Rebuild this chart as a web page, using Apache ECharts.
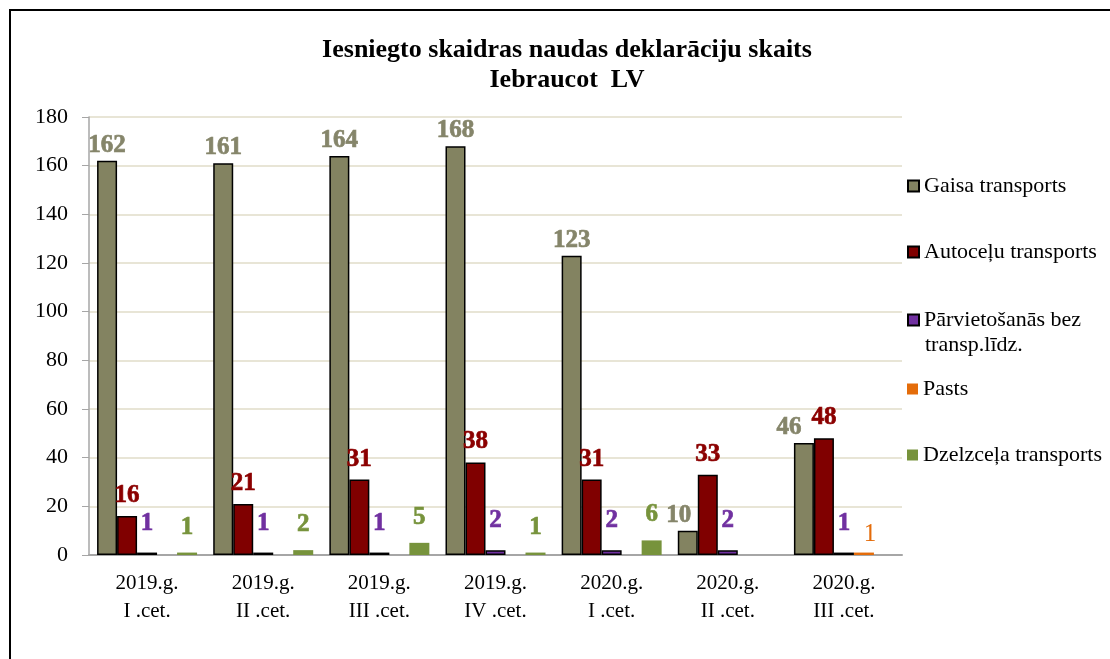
<!DOCTYPE html>
<html>
<head>
<meta charset="utf-8">
<title>Iesniegto skaidras naudas deklarāciju skaits</title>
<script src="https://cdn.jsdelivr.net/npm/echarts@6/dist/echarts.min.js"></script>
<style>
  html, body { margin: 0; padding: 0; background: #fff; }
  #chart { width: 1110px; height: 659px; }
</style>
</head>
<body>
<div id="chart"></div>
<script>
var categories = ['2019.g.\nI .cet.', '2019.g.\nII .cet.', '2019.g.\nIII .cet.', '2019.g.\nIV .cet.',
                  '2020.g.\nI .cet.', '2020.g.\nII .cet.', '2020.g.\nIII .cet.'];
var seriesNames = ['Gaisa transports', 'Autoceļu transports', 'Pārvietošanās bez transp.līdz.', 'Pasts', 'Dzelzceļa transports'];
var gaisa = [162, 161, 164, 168, 123, 10, 46];
var autocelu = [16, 21, 31, 38, 31, 33, 48];
var parvietosanas = [1, 1, 1, 2, 2, 2, 1];
var pasts = [null, null, null, null, null, null, 1];
var dzelzcela = [1, 2, 5, 1, 6, null, null];
var yTicks = [0, 20, 40, 60, 80, 100, 120, 140, 160, 180];

var serif = '"Liberation Serif", "DejaVu Serif", serif';
var chart = echarts.init(document.getElementById('chart'));

function barSeries(name, data, fill, labelColor, border, dist, bold) {
  return {
    name: name,
    type: 'bar',
    data: data,
    barWidth: 20,
    barGap: '0%',
    itemStyle: { color: fill, borderColor: border ? '#000' : fill, borderWidth: border ? 1.5 : 0 },
    label: {
      show: true,
      position: 'top',
      distance: dist,
      formatter: '{v|{c}}',
      rich: {
        v: {
          color: labelColor,
          fontFamily: serif,
          fontSize: 25,
          fontWeight: bold ? 'bold' : 'normal',
          textBorderColor: bold ? labelColor : 'transparent',
          textBorderWidth: bold ? 0.7 : 0
        }
      }
    }
  };
}

// gaisa labels in the last two quarters sit a bit left of their bars
var gaisaData = gaisa.map(function (v, i) {
  if (i === 5) return { value: v, label: { offset: [-9, 0] } };
  if (i === 6) return { value: v, label: { offset: [-15, 0] } };
  return v;
});
var pastsData = pasts.map(function (v) {
  return v == null ? v : { value: v, label: { offset: [6, 0] } };
});

function legendAt(name, top, shown) {
  return {
    orient: 'vertical',
    left: 902,
    top: top,
    itemWidth: 11,
    itemHeight: 11,
    icon: 'rect',
    formatter: shown ? function () { return shown; } : undefined,
    textStyle: { fontFamily: serif, fontSize: 22, color: '#000', lineHeight: 28 },
    data: [name]
  };
}

var option = {
  animation: false,
  backgroundColor: '#fff',
  title: {
    text: 'Iesniegto skaidras naudas deklarāciju skaits\nIebraucot  LV',
    left: 562,
    textAlign: 'center',
    top: 30,
    textStyle: { fontFamily: serif, fontSize: 26, fontWeight: 'bold', color: '#000', lineHeight: 30 }
  },
  graphic: [{
    type: 'rect',
    shape: { x: 10, y: 10, width: 1200, height: 800 },
    style: { fill: 'none', stroke: '#000', lineWidth: 2 },
    silent: true
  }, {
    type: 'text',
    left: 925,
    top: 334,
    style: { text: 'transp.līdz.', font: '22px ' + serif, fill: '#000' },
    silent: true
  }],
  legend: [
    legendAt(seriesNames[0], 167),
    legendAt(seriesNames[1], 233),
    legendAt(seriesNames[2], 301, 'Pārvietošanās bez'),
    legendAt(seriesNames[3], 370),
    legendAt(seriesNames[4], 436)
  ],
  grid: { left: 89, right: 208, top: 117, bottom: 104 },
  xAxis: {
    type: 'category',
    data: categories,
    axisLine: { lineStyle: { color: '#a6a6a6', width: 2 } },
    axisTick: { show: false },
    axisLabel: { fontFamily: serif, fontSize: 21, color: '#000', lineHeight: 28, margin: 14 }
  },
  yAxis: {
    type: 'value',
    min: yTicks[0],
    max: yTicks[yTicks.length - 1],
    interval: 20,
    axisLine: { show: true, lineStyle: { color: '#a6a6a6', width: 1.5 } },
    axisTick: { show: true, length: 7, lineStyle: { color: '#a6a6a6' } },
    axisLabel: { fontFamily: serif, fontSize: 22, color: '#000', margin: 21 },
    splitLine: { lineStyle: { color: '#e0dcc8', width: 1.5 } }
  },
  series: [
    barSeries(seriesNames[0], gaisaData, '#838361', '#85856a', true, 3, true),
    barSeries(seriesNames[1], autocelu, '#800000', '#8b0000', true, 8, true),
    barSeries(seriesNames[2], parvietosanas, '#7030a0', '#7030a0', true, 17, true),
    barSeries(seriesNames[3], pastsData, '#e46c0a', '#e46c0a', false, 6, false),
    barSeries(seriesNames[4], dzelzcela, '#77933c', '#77933c', false, 13, true)
  ]
};

chart.setOption(option);
</script>
</body>
</html>
